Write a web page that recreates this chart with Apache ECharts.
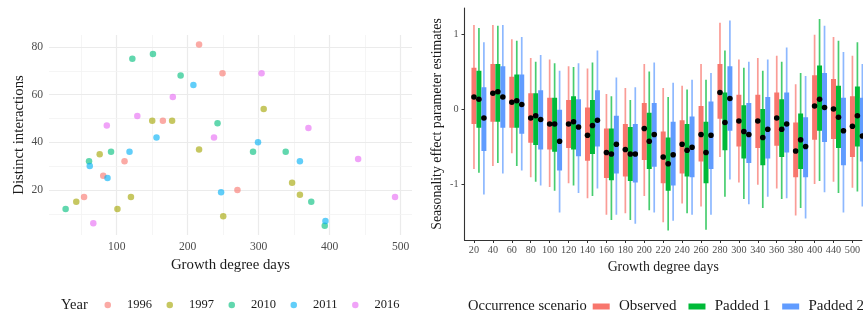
<!DOCTYPE html>
<html>
<head>
<meta charset="utf-8">
<script src="https://cdn.jsdelivr.net/npm/echarts@6/dist/echarts.min.js"></script>
<style>
html,body{margin:0;padding:0;background:#fff;}
#main{width:863px;height:320px;}
</style>
</head>
<body>
<div id="main"></div>
<script>
var font = 'Liberation Serif';

// left panel: [growth degree days, distinct interactions]
var years = ['1996', '1997', '2010', '2011', '2016'];
var yearColors = ['#F8766D', '#A3A500', '#00BF7D', '#00B0F6', '#E76BF3'];
var pts1996 = [[216,81],[249,69],[165,49],[111,32],[81,26],[270,20],[54,17]];
var pts1997 = [[307,54],[150,49],[178,49],[216,37],[76,35],[347,23],[358,18],[120,17],[43,15],[101,12],[250,9]];
var pts2010 = [[122,75],[151,77],[190,68],[242,48],[92,36],[292,36],[338,36],[61,32],[374,15],[28,12],[393,5]];
var pts2011 = [[208,64],[156,42],[299,40],[118,36],[358,32],[62,30],[87,25],[247,19],[394,7]];
var pts2016 = [[304,69],[179,59],[129,51],[86,47],[370,46],[237,42],[440,33],[492,17],[67,6]];
var yearPts = [pts1996, pts1997, pts2010, pts2011, pts2016];
var gddTicks = [100, 200, 300, 400, 500];
var gddMinor = [50, 150, 250, 350, 450];
var interTicks = [20, 40, 60, 80];
var interMinor = [10, 30, 50, 70];

// right panel: each row [low, box low, median, box high, high]
var gddCats = ['20','40','60','80','100','120','140','160','180','200','220','240','260','280','300','340','360','380','400','440','500'];
var scenarios = ['Observed', 'Padded 1', 'Padded 2'];
var scenColors = ['#F8766D', '#00BA38', '#619CFF'];
var observed = [
  [-0.80,-0.20,0.16,0.55,1.12],[-0.76,-0.17,0.21,0.60,1.12],[-0.59,-0.25,0.09,0.43,0.93],
  [-0.91,-0.45,-0.12,0.21,0.68],[-1.04,-0.54,-0.20,0.15,0.66],[-0.99,-0.52,-0.20,0.12,0.57],
  [-1.19,-0.69,-0.35,0.02,0.54],[-1.41,-0.92,-0.58,-0.26,0.20],[-1.39,-0.90,-0.54,-0.20,0.28],
  [-1.16,-0.68,-0.26,0.08,0.60],[-1.51,-0.99,-0.64,-0.30,0.28],[-1.26,-0.86,-0.47,-0.15,0.31],
  [-1.30,-0.70,-0.34,0.04,0.60],[-0.64,-0.13,0.22,0.60,1.15],[-0.98,-0.50,-0.16,0.19,0.66],
  [-1.01,-0.52,-0.16,0.19,0.68],[-1.06,-0.49,-0.12,0.22,0.71],[-1.42,-0.91,-0.56,-0.18,0.33],
  [-1.00,-0.41,0.04,0.45,0.99],[-0.97,-0.40,0.00,0.40,0.96],[-1.05,-0.64,-0.23,0.17,0.71]
];
var padded1 = [
  [-0.85,-0.25,0.13,0.51,1.08],[-0.72,-0.17,0.23,0.60,1.11],[-0.76,-0.25,0.11,0.46,0.91],
  [-0.97,-0.48,-0.09,0.21,0.63],[-1.09,-0.57,-0.20,0.15,0.61],[-1.02,-0.54,-0.17,0.17,0.56],
  [-1.16,-0.60,-0.22,0.12,0.62],[-1.48,-0.95,-0.60,-0.26,0.17],[-1.48,-0.96,-0.60,-0.24,0.12],
  [-1.35,-0.80,-0.43,-0.05,0.50],[-1.62,-1.09,-0.73,-0.38,0.16],[-1.39,-0.90,-0.55,-0.20,0.26],
  [-1.61,-0.99,-0.58,-0.17,0.39],[-1.17,-0.55,-0.18,0.22,0.78],[-1.20,-0.66,-0.30,0.05,0.55],
  [-1.32,-0.75,-0.38,0.00,0.51],[-1.20,-0.64,-0.27,0.13,0.63],[-1.32,-0.80,-0.41,-0.06,0.48],
  [-0.96,-0.29,0.13,0.58,1.20],[-1.12,-0.52,-0.11,0.31,0.91],[-1.10,-0.50,-0.09,0.30,0.89]
];
var padded2 = [
  [-1.14,-0.56,-0.12,0.29,0.89],[-0.86,-0.25,0.16,0.57,1.12],[-0.82,-0.33,0.06,0.46,0.96],
  [-1.02,-0.54,-0.14,0.25,0.72],[-1.38,-0.82,-0.43,-0.01,0.51],[-1.12,-0.63,-0.24,0.13,0.61],
  [-1.06,-0.50,-0.15,0.25,0.78],[-1.41,-0.86,-0.47,-0.09,0.42],[-1.53,-0.98,-0.60,-0.20,0.29],
  [-1.38,-0.77,-0.34,0.08,0.62],[-1.49,-1.02,-0.61,-0.17,0.35],[-1.41,-0.91,-0.51,-0.10,0.39],
  [-1.41,-0.80,-0.35,0.10,0.48],[-0.94,-0.29,0.14,0.57,1.18],[-1.27,-0.72,-0.34,0.08,0.63],
  [-1.17,-0.66,-0.27,0.16,0.66],[-1.19,-0.58,-0.20,0.22,0.82],[-1.46,-0.91,-0.50,-0.11,0.44],
  [-1.11,-0.44,0.02,0.48,1.11],[-1.38,-0.75,-0.29,0.15,0.76],[-1.30,-0.70,-0.36,0.15,0.60]
];
var scenData = [observed, padded1, padded2];
var seasonTicks = [-1, 0, 1];

var chart = echarts.init(document.getElementById('main'));

var tickText = { color: '#4d4d4d', fontFamily: font };
var nameText = { color: '#1a1a1a', fontFamily: font };

// grid lines of the left panel
var gridLines = [];
gddTicks.forEach(function (v) { gridLines.push({ xAxis: v, lineStyle: { color: '#ebebeb', width: 1.2, type: 'solid' } }); });
gddMinor.forEach(function (v) { gridLines.push({ xAxis: v, lineStyle: { color: '#f3f3f3', width: 0.8, type: 'solid' } }); });
interTicks.forEach(function (v) { gridLines.push({ yAxis: v, lineStyle: { color: '#ebebeb', width: 1.2, type: 'solid' } }); });
interMinor.forEach(function (v) { gridLines.push({ yAxis: v, lineStyle: { color: '#f3f3f3', width: 0.8, type: 'solid' } }); });

var series = [];
years.forEach(function (y, k) {
  var s = {
    name: y,
    type: 'scatter',
    xAxisIndex: 0,
    yAxisIndex: 0,
    symbolSize: 6.5,
    itemStyle: { color: yearColors[k], opacity: 0.62 },
    data: yearPts[k]
  };
  if (k === 0) {
    s.markLine = {
      z: 1,
      silent: true,
      symbol: ['none', 'none'],
      label: { show: false },
      animation: false,
      data: gridLines
    };
  }
  series.push(s);
});

var step = 0.2625; // dodge step as fraction of band

function rangeRender(k) {
  return function (params, api) {
    var i = api.value(0);
    var band = api.size([1, 0])[0];
    var w = band * step;
    var x = api.coord([i, 0])[0] + k * w;
    var yLo = api.coord([i, api.value(1)])[1];
    var yQ1 = api.coord([i, api.value(2)])[1];
    var yQ3 = api.coord([i, api.value(4)])[1];
    var yHi = api.coord([i, api.value(5)])[1];
    return {
      type: 'group',
      children: [
        { type: 'rect', shape: { x: x - 0.85, y: yHi, width: 1.7, height: yLo - yHi },
          style: { fill: scenColors[k], opacity: 0.72 } },
        { type: 'rect', shape: { x: x - w / 2, y: yQ3, width: w, height: yQ1 - yQ3 },
          style: { fill: scenColors[k] } }
      ]
    };
  };
}

function dotRender(k) {
  return function (params, api) {
    var i = api.value(0);
    var band = api.size([1, 0])[0];
    var x = api.coord([i, 0])[0] + k * band * step;
    var y = api.coord([i, api.value(3)])[1];
    return { type: 'circle', shape: { cx: x, cy: y, r: 2.8 }, style: { fill: '#000' } };
  };
}

scenarios.forEach(function (name, k) {
  var rows = scenData[k].map(function (r, i) { return [i].concat(r); });
  series.push({
    name: name,
    type: 'custom',
    xAxisIndex: 1,
    yAxisIndex: 1,
    z: 2,
    itemStyle: { color: scenColors[k] },
    renderItem: rangeRender(k),
    encode: { x: 0, y: [1, 2, 3, 4, 5] },
    data: rows
  });
});
scenarios.forEach(function (name, k) {
  var rows = scenData[k].map(function (r, i) { return [i].concat(r); });
  series.push({
    name: name + ' median',
    type: 'custom',
    xAxisIndex: 1,
    yAxisIndex: 1,
    z: 3,
    itemStyle: { color: '#000' },
    renderItem: dotRender(k),
    encode: { x: 0, y: 3 },
    data: rows
  });
});

var option = {
  backgroundColor: '#fff',
  animation: false,
  title: [
    { text: 'Year', left: 61, top: 297, padding: 0,
      textStyle: { fontFamily: font, fontSize: 14.5, fontWeight: 'normal', color: '#1a1a1a', lineHeight: 16 } },
    { text: 'Occurrence scenario', left: 468, top: 298.5, padding: 0,
      textStyle: { fontFamily: font, fontSize: 14.5, fontWeight: 'normal', color: '#1a1a1a', lineHeight: 16 } }
  ],
  legend: [
    {
      data: years,
      left: 104.5,
      top: 298,
      width: 340,
      padding: 0,
      icon: 'circle',
      itemWidth: 6.5,
      itemHeight: 6.5,
      itemGap: 14.5,
      selectedMode: false,
      textStyle: { fontFamily: font, fontSize: 12.5, color: '#1a1a1a', lineHeight: 14, padding: [0, 0, 0, 11] }
    },
    {
      data: scenarios,
      left: 592.7,
      top: 298,
      width: 340,
      padding: 0,
      icon: 'rect',
      itemWidth: 17,
      itemHeight: 6,
      itemGap: 12,
      selectedMode: false,
      textStyle: { fontFamily: font, fontSize: 15, color: '#1a1a1a', lineHeight: 17, padding: [0, 0, 0, 4.3] }
    }
  ],
  grid: [
    { left: 49, top: 35, width: 363, height: 200 },
    { left: 464.5, top: 8, width: 400.5, height: 232 }
  ],
  xAxis: [
    {
      type: 'value',
      gridIndex: 0,
      min: 4.6,
      max: 515.9,
      name: 'Growth degree days',
      nameLocation: 'middle',
      nameGap: 19,
      nameTextStyle: Object.assign({ fontSize: 14.8 }, nameText),
      axisLine: { show: false, onZero: false },
      axisTick: { show: false },
      splitLine: { show: false },
      axisLabel: Object.assign({ customValues: gddTicks, fontSize: 11.6, margin: 6 }, tickText)
    },
    {
      type: 'category',
      gridIndex: 1,
      data: gddCats,
      name: 'Growth degree days',
      nameLocation: 'middle',
      nameGap: 20,
      nameTextStyle: Object.assign({ fontSize: 13.8 }, nameText),
      axisLine: { show: true, onZero: false, lineStyle: { color: '#333', width: 1.1 } },
      axisTick: { show: true, alignWithLabel: true, length: 3, lineStyle: { color: '#333', width: 1 } },
      splitLine: { show: false },
      axisLabel: Object.assign({ interval: 0, fontSize: 10.2, margin: 5 }, tickText)
    }
  ],
  yAxis: [
    {
      type: 'value',
      gridIndex: 0,
      min: 1.1,
      max: 85,
      name: 'Distinct interactions',
      nameLocation: 'middle',
      nameGap: 22,
      nameTextStyle: Object.assign({ fontSize: 14.8 }, nameText),
      axisLine: { show: false, onZero: false },
      axisTick: { show: false },
      splitLine: { show: false },
      axisLabel: Object.assign({ customValues: interTicks, fontSize: 11.6, margin: 6 }, tickText)
    },
    {
      type: 'value',
      gridIndex: 1,
      min: -1.7467,
      max: 1.3467,
      name: 'Seasonality effect parameter estimates',
      nameLocation: 'middle',
      nameGap: 20.5,
      nameTextStyle: Object.assign({ fontSize: 13.8 }, nameText),
      axisLine: { show: true, onZero: false, lineStyle: { color: '#333', width: 1.1 } },
      axisTick: { show: true, customValues: seasonTicks, length: 3, lineStyle: { color: '#333', width: 1 } },
      splitLine: { show: false },
      axisLabel: Object.assign({ customValues: seasonTicks, fontSize: 10.2, margin: 6 }, tickText)
    }
  ],
  series: series
};
chart.setOption(option);
</script>
</body>
</html>
